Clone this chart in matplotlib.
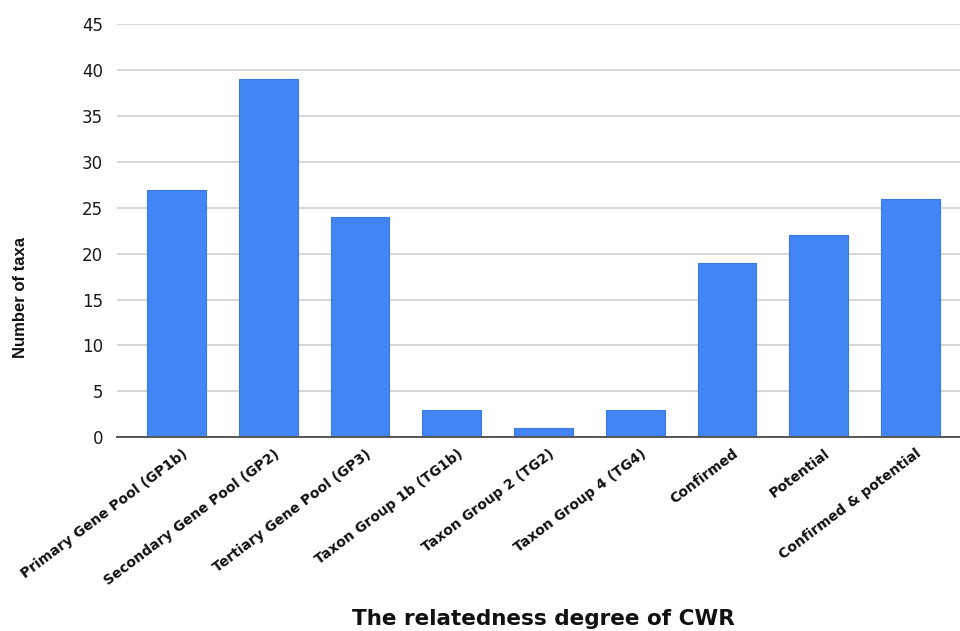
import matplotlib
matplotlib.use("Agg")
import matplotlib.pyplot as plt
from matplotlib import font_manager as fm
import matplotlib.transforms as mtransforms

categories = ["Primary Gene Pool (GP1b)", "Secondary Gene Pool (GP2)", "Tertiary Gene Pool (GP3)",
              "Taxon Group 1b (TG1b)", "Taxon Group 2 (TG2)", "Taxon Group 4 (TG4)",
              "Confirmed", "Potential", "Confirmed & potential"]
values = [27, 39, 24, 3, 1, 3, 19, 22, 26]
yticks = [0, 5, 10, 15, 20, 25, 30, 35, 40, 45]

names = {f.name for f in fm.fontManager.ttflist}
narrow = "Liberation Sans Narrow" if "Liberation Sans Narrow" in names else "Liberation Sans"

fig = plt.figure(figsize=(9.6, 6.31), dpi=100)
ax = fig.add_axes([0.1219, 0.3074, 0.8781, 0.6538])

x = list(range(len(categories)))
ax.bar(x, values, width=0.64, color="#4285F4", edgecolor="#3a78e0", linewidth=0.8, zorder=3)

ax.set_xlim(-0.65, 8.54)
ax.set_ylim(0, 45)
ax.set_yticks(yticks)
ax.set_yticklabels([str(v) for v in yticks], fontsize=12, family="DejaVu Sans", color="#1a1a1a")
ax.yaxis.grid(True, color="#d6d6d6", linewidth=1.4, zorder=0)
ax.tick_params(axis="y", length=0, pad=10)
ax.tick_params(axis="x", length=0, pad=7)

for s in ["top", "right", "left"]:
    ax.spines[s].set_visible(False)
ax.spines["bottom"].set_color("#555555")
ax.spines["bottom"].set_linewidth(1.4)
ax.spines["bottom"].set_zorder(4)

ax.set_xticks(x)
ax.set_xticklabels(categories, rotation=37, ha="right", va="top", rotation_mode="anchor",
                   fontsize=10, family="DejaVu Sans", fontweight="bold", color="#111111")
offset = mtransforms.ScaledTranslation(5/100, 0, fig.dpi_scale_trans)
for lab in ax.get_xticklabels():
    lab.set_transform(lab.get_transform() + offset)

fig.text(0.021, 0.529, "Number of taxa", rotation=90, ha="center", va="center",
         fontsize=12, family=narrow, fontweight="bold", color="#111111")
fig.text(0.566, 0.019, "The relatedness degree of CWR", ha="center", va="center",
         fontsize=15.5, family="DejaVu Sans", fontweight="bold", color="#111111")

fig.savefig("out.png", dpi=100)
